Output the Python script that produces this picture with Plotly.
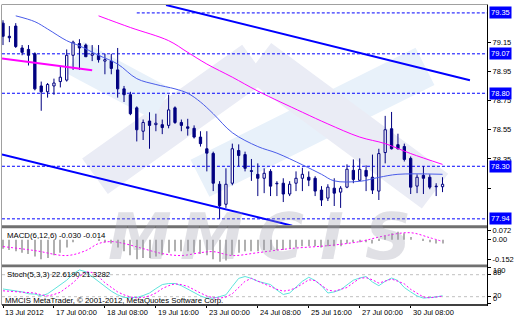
import plotly.graph_objects as go

# ---------------- data ----------------
bar_index = list(range(70))
open_ = [79.28, 79.19, 79.26, 79.11, 79.10, 79.07, 78.85, 78.81, 78.85, 78.88,
         78.89, 79.06, 79.14, 79.13, 79.06, 79.06, 79.02, 79.02, 78.96, 78.83,
         78.79, 78.70, 78.54, 78.61, 78.585, 78.585, 78.58, 78.70, 78.60, 78.57,
         78.56, 78.50, 78.42, 78.388, 78.177, 78.04, 78.184, 78.408, 78.38, 78.27,
         78.245, 78.218, 78.265, 78.184, 78.184, 78.11, 78.184, 78.218, 78.225, 78.218,
         78.137, 78.082, 78.15, 78.123, 78.157, 78.272, 78.204, 78.272, 78.225, 78.13,
         78.394, 78.557, 78.448, 78.435, 78.354, 78.164, 78.238, 78.225, 78.164, 78.16]
high_ = [79.30, 79.26, 79.28, 79.13, 79.13, 79.08, 78.88, 78.87, 78.90, 78.98,
         79.10, 79.16, 79.17, 79.14, 79.13, 79.13, 79.07, 79.07, 79.11, 78.85,
         78.81, 78.71, 78.62, 78.67, 78.66, 78.62, 78.79, 78.71, 78.62, 78.625,
         78.58, 78.54, 78.54, 78.40, 78.198, 78.286, 78.455, 78.45, 78.40, 78.35,
         78.32, 78.286, 78.28, 78.198, 78.218, 78.198, 78.265, 78.29, 78.265, 78.232,
         78.164, 78.177, 78.218, 78.164, 78.313, 78.347, 78.354, 78.306, 78.38, 78.42,
         78.645, 78.672, 78.523, 78.455, 78.367, 78.245, 78.30, 78.245, 78.184, 78.225]
low_ = [79.13, 79.15, 79.11, 79.06, 78.99, 78.82, 78.68, 78.77, 78.79, 78.84,
        78.88, 78.96, 78.96, 79.05, 79.02, 79.01, 78.93, 78.93, 78.77, 78.74,
        78.65, 78.47, 78.48, 78.42, 78.54, 78.52, 78.56, 78.59, 78.54, 78.51,
        78.49, 78.435, 78.265, 78.13, 77.94, 78.015, 78.17, 78.30, 78.265, 78.20,
        78.096, 78.116, 78.096, 78.096, 78.055, 78.096, 78.13, 78.13, 78.164, 78.096,
        78.028, 78.062, 78.028, 78.015, 78.15, 78.184, 78.198, 78.13, 78.11, 78.069,
        78.32, 78.415, 78.415, 78.333, 78.11, 78.116, 78.11, 78.143, 78.096, 78.123]
close_ = [79.19, 79.18, 79.12, 79.08, 79.06, 78.83, 78.81, 78.86, 78.87, 78.91,
          79.06, 79.15, 79.11, 79.05, 79.07, 79.03, 79.03, 78.97, 78.83, 78.79,
          78.66, 78.55, 78.60, 78.58, 78.595, 78.565, 78.686, 78.60, 78.58, 78.56,
          78.50, 78.455, 78.39, 78.184, 78.03, 78.177, 78.42, 78.374, 78.286, 78.265,
          78.218, 78.252, 78.164, 78.18, 78.11, 78.177, 78.218, 78.245, 78.205, 78.13,
          78.069, 78.157, 78.116, 78.15, 78.28, 78.21, 78.279, 78.232, 78.137, 78.387,
          78.55, 78.42, 78.42, 78.347, 78.157, 78.225, 78.218, 78.157, 78.16, 78.177]

blue_ma_bar = [2, 5, 7, 10, 12, 15, 18, 21, 24, 27, 29, 31, 33, 36, 40, 43, 47, 50, 52, 56, 59, 62, 69]
blue_ma_val = [79.33, 79.29, 79.24, 79.16, 79.125, 79.06, 79.00, 78.90, 78.86, 78.83, 78.80, 78.74,
               78.66, 78.53, 78.435, 78.39, 78.31, 78.245, 78.20, 78.197, 78.224, 78.245, 78.245]
magenta_ma_bar = [15, 20, 26, 29, 32, 36, 40, 47, 51, 56, 60, 64, 69]
magenta_ma_val = [79.33, 79.25, 79.16, 79.08, 79.00, 78.91, 78.815, 78.67, 78.59, 78.50, 78.455, 78.387, 78.313]

upper_channel_bar = [25.6, 73.3]
upper_channel_price = [79.404, 78.889]
lower_channel_bar = [-0.16, 45.4]
lower_channel_price = [78.381, 77.893]
magenta_trend_bar = [-0.16, 14.0]
magenta_trend_price = [79.038, 78.957]

level_prices = [79.35, 79.07, 78.80, 78.30, 77.94]
level_start_bar = [21, -0.16, -0.16, -0.16, -0.16]
level_labels = ["79.35", "79.07", "78.80", "78.30", "77.94"]

price_tick_vals = [79.15, 78.95, 78.75, 78.55, 78.35, 78.15]
price_tick_text = ["79.15", "78.95", "78.75", "78.55", "78.35", ""]

macd_hist = [-0.07, -0.08, -0.09, -0.10, -0.11, -0.13, -0.15, -0.14, -0.12, -0.10,
             -0.06, -0.02, 0.00, 0.00, 0.00, -0.01, -0.02, -0.03, -0.06, -0.09,
             -0.12, -0.15, -0.14, -0.14, -0.13, -0.12, -0.10, -0.09, -0.09, -0.09,
             -0.10, -0.11, -0.12, -0.15, -0.17, -0.16, -0.12, -0.10, -0.09, -0.09,
             -0.09, -0.08, -0.08, -0.08, -0.08, -0.07, -0.06, -0.05, -0.05, -0.05,
             -0.06, -0.05, -0.05, -0.05, -0.03, -0.02, -0.02, -0.02, -0.03, -0.01,
             0.03, 0.05, 0.06, 0.05, 0.02, 0.00, -0.01, -0.02, -0.03, -0.03]
macd_signal_bar = [0, 5, 10, 13, 15, 17, 19, 22, 25, 28, 31, 33, 36, 40, 45, 51, 56, 60, 64, 67, 69]
macd_signal_val = [-0.053, -0.084, -0.122, -0.084, -0.03, -0.015, -0.03, -0.069, -0.107, -0.122,
                   -0.10, -0.092, -0.122, -0.10, -0.069, -0.046, -0.015, 0.03, 0.053, 0.015, -0.014]
macd_tick_vals = [0.072, 0.0, -0.152]
macd_tick_text = ["0.072", "0.00", "-0.152"]

stoch_main = [41, 39, 37, 33, 28, 27, 22, 28, 40, 52,
              65, 82, 93, 88, 75, 60, 47, 35, 25, 18,
              17, 18, 23, 30, 42, 53, 56, 56, 50, 40,
              30, 22, 16, 16, 20, 25, 48, 70, 75, 70,
              62, 58, 53, 38, 26, 30, 45, 62, 73, 64,
              50, 30, 33, 39, 52, 65, 71, 75, 60, 50,
              62, 71, 64, 45, 33, 22, 16, 17, 19, 22.62]
stoch_signal = [36, 35, 33, 32, 31, 30, 25, 22, 26, 32,
                45, 58, 75, 88, 86, 75, 58, 45, 33, 25,
                19, 17, 18, 22, 30, 42, 50, 55, 53, 48,
                38, 30, 22, 17, 16, 19, 28, 45, 62, 70,
                62, 55, 48, 40, 35, 38, 44, 55, 66, 64,
                50, 38, 35, 40, 45, 58, 70, 72, 66, 57,
                62, 68, 62, 55, 40, 30, 19, 17, 19, 21.33]
stoch_levels = [80, 20]
stoch_label_vals = [100, 80, 20, 0]
stoch_label_text = ["100", "80", "20", "0"]

time_tick_bar = [0, 8, 16, 24, 32, 40, 48, 56, 64]
time_tick_text = ["13 Jul 2012", "17 Jul 00:00", "18 Jul 08:00", "19 Jul 16:00", "23 Jul 00:00",
                  "24 Jul 08:00", "25 Jul 16:00", "27 Jul 00:00", "30 Jul 08:00"]

# ---------------- geometry / style ----------------
W, H = 520, 320
ML, MR, MT, MB = 2, 33, 2, 16
PW, PH = W - ML - MR, H - MT - MB
BAR_PX, FIRST_PX = 6.37, 3.0


def pxp(x):
    return (x - ML) / PW


def pyp(y):
    return (H - MB - y) / PH


x_min = (ML - FIRST_PX) / BAR_PX
x_max = (W - MR - FIRST_PX) / BAR_PX
p_top = 79.35 + 8 * (1.41 / 208)
p_bot = 77.94 - 6.5 * (1.41 / 208)

NAVY = "#000080"
FONT = "Liberation Sans, Arial, sans-serif"

fig = go.Figure()

# candles
wx, wy = [], []
for i, o, h, l, c in zip(bar_index, open_, high_, low_, close_):
    top, bot = max(o, c), min(o, c)
    wx += [i, i, None, i, i, None]
    wy += [h, top, None, bot, l, None]
fig.add_trace(go.Scatter(x=wx, y=wy, mode="lines", line=dict(color=NAVY, width=1),
                         hoverinfo="skip", xaxis="x", yaxis="y"))
body_base = [min(o, c) for o, c in zip(open_, close_)]
body_h = [max(abs(c - o), 0.004) for o, c in zip(open_, close_)]
body_col = ["white" if c >= o else NAVY for o, c in zip(open_, close_)]
fig.add_trace(go.Bar(x=bar_index, y=body_h, base=body_base, width=0.36,
                     marker=dict(color=body_col, line=dict(color=NAVY, width=1)),
                     xaxis="x", yaxis="y"))

# moving averages and drawn lines
fig.add_trace(go.Scatter(x=blue_ma_bar, y=blue_ma_val, mode="lines", line=dict(color="#4a5ce8", width=1, shape="spline"),
                         xaxis="x", yaxis="y"))
fig.add_trace(go.Scatter(x=magenta_ma_bar, y=magenta_ma_val, mode="lines", line=dict(color="#ff00ff", width=1, shape="spline"),
                         xaxis="x", yaxis="y"))
fig.add_trace(go.Scatter(x=upper_channel_bar, y=upper_channel_price, mode="lines", line=dict(color="#0000ff", width=2),
                         xaxis="x", yaxis="y"))
fig.add_trace(go.Scatter(x=lower_channel_bar, y=lower_channel_price, mode="lines", line=dict(color="#0000ff", width=2),
                         xaxis="x", yaxis="y"))
fig.add_trace(go.Scatter(x=magenta_trend_bar, y=magenta_trend_price, mode="lines", line=dict(color="#ff00ff", width=2),
                         xaxis="x", yaxis="y"))

# MACD
fig.add_trace(go.Bar(x=bar_index, y=macd_hist, width=0.16, marker=dict(color="#b0b0b0", line=dict(width=0)),
                     xaxis="x2", yaxis="y2"))
fig.add_trace(go.Scatter(x=macd_signal_bar, y=macd_signal_val, mode="lines",
                         line=dict(color="#ff00ff", width=1, dash="2px,2px", shape="spline"), xaxis="x2", yaxis="y2"))

# Stochastic
fig.add_trace(go.Scatter(x=bar_index, y=stoch_main, mode="lines", line=dict(color="#5fe3dc", width=1),
                         xaxis="x3", yaxis="y3"))
fig.add_trace(go.Scatter(x=bar_index, y=stoch_signal, mode="lines", line=dict(color="#ff00ff", width=1, dash="2px,2px"),
                         xaxis="x3", yaxis="y3"))

shapes = []
# watermark ribbons (decoration, pixel geometry)
def band(x0, y0, x1, y1, w, color):
    import math
    dx, dy = x1 - x0, y1 - y0
    L = math.hypot(dx, dy)
    nx, ny = -dy / L * w / 2, dx / L * w / 2
    pts = [(x0 + nx, y0 + ny), (x1 + nx, y1 + ny), (x1 - nx, y1 - ny), (x0 - nx, y0 - ny)]
    path = "M " + " L ".join(f"{pxp(a):.4f},{pyp(b):.4f}" for a, b in pts) + " Z"
    return dict(type="path", path=path, xref="paper", yref="paper", fillcolor=color,
                line=dict(width=0), layer="below")

shapes.append(band(200, 177, 425, 64, 42, "#e8f1fa"))
shapes.append(band(95, 175, 255, 60, 44, "#eaecf5"))
shapes.append(band(75, 55, 162, 102, 36, "#e8f1fa"))
shapes.append(band(258, 58, 435, 190, 44, "#eaecf5"))

# level lines
for lp, ls in zip(level_prices, level_start_bar):
    shapes.append(dict(type="line", xref="x", yref="y", x0=ls, x1=x_max, y0=lp, y1=lp,
                       line=dict(color="#0000ff", width=1, dash="3px,2px"), layer="below"))
for lv in stoch_levels:
    shapes.append(dict(type="line", xref="x3", yref="y3", x0=x_min, x1=x_max, y0=lv, y1=lv,
                       line=dict(color="#c0c0c0", width=1, dash="3px,3px"), layer="below"))

# frame & separators
shapes += [
    dict(type="rect", xref="paper", yref="paper", x0=0, x1=1, y0=pyp(227.5), y1=pyp(224.5),
         fillcolor="#707070", line=dict(width=0)),
    dict(type="rect", xref="paper", yref="paper", x0=0, x1=1, y0=pyp(267), y1=pyp(264),
         fillcolor="#707070", line=dict(width=0)),
    dict(type="line", xref="paper", yref="paper", x0=0, x1=1, y0=pyp(1.5), y1=pyp(1.5),
         line=dict(color="#a0a0a0", width=1)),
    dict(type="line", xref="paper", yref="paper", x0=pxp(1.5), x1=pxp(1.5), y0=pyp(1.5), y1=pyp(305),
         line=dict(color="#a0a0a0", width=1)),
    dict(type="line", xref="paper", yref="paper", x0=0, x1=1, y0=pyp(305), y1=pyp(305),
         line=dict(color="#404040", width=2)),
    dict(type="line", xref="paper", yref="paper", x0=pxp(487.5), x1=pxp(487.5), y0=pyp(1.5), y1=pyp(306),
         line=dict(color="#000000", width=1)),
]

ann = []
# watermark letters
for letter, cx in zip(["M", "M", "C", "I", "S"], [140, 212, 280, 332, 388]):
    ann.append(dict(text=letter, xref="paper", yref="paper", x=pxp(cx), y=pyp(236), xanchor="center",
                    yanchor="middle", showarrow=False,
                    font=dict(family="DejaVu Sans", size=64, color="rgba(160,160,175,0.32)",
                              weight="bold", style="italic")))
# level boxes
for lp, lt in zip(level_prices, level_labels):
    ann.append(dict(text=lt, xref="paper", yref="y", x=1, y=lp, xanchor="left", yanchor="middle",
                    xshift=2, showarrow=False, bgcolor="#0000ff", borderpad=1,
                    font=dict(family=FONT, size=7.5, color="white")))
# stochastic scale labels
for sv, st, sh in zip(stoch_label_vals, stoch_label_text, [-3, 2, 1, 5]):
    ann.append(dict(text=st, xref="paper", yref="y3", x=1, y=sv, xanchor="left", yanchor="middle",
                    xshift=4, yshift=sh, showarrow=False, font=dict(family=FONT, size=7.5, color="#000")))
# time labels
for tb, tt in zip(time_tick_bar, time_tick_text):
    ann.append(dict(text=tt, xref="x3", yref="paper", x=tb, y=0, xanchor="left", yanchor="top",
                    xshift=0, yshift=-2, showarrow=False, font=dict(family=FONT, size=7.5, color="#000")))
# panel texts
ann.append(dict(text="MACD(6,12,6) -0.030 -0.014", xref="paper", yref="paper", x=pxp(5), y=pyp(235),
                xanchor="left", yanchor="middle", showarrow=False, font=dict(family=FONT, size=7.8, color="#000")))
ann.append(dict(text="Stoch(5,3,3) 22.6190 21.3282", xref="paper", yref="paper", x=pxp(5), y=pyp(274),
                xanchor="left", yanchor="middle", showarrow=False, font=dict(family=FONT, size=7.8, color="#000")))
ann.append(dict(text="MMCIS MetaTrader, © 2001-2012, MetaQuotes Software Corp.", xref="paper", yref="paper",
                x=pxp(3), y=pyp(300), xanchor="left", yanchor="middle", showarrow=False,
                font=dict(family=FONT, size=7.8, color="#000")))

xcommon = dict(range=[x_min, x_max], showgrid=False, zeroline=False, showticklabels=False,
               showline=False, fixedrange=True, domain=[0, 1])
fig.update_layout(
    width=W, height=H, margin=dict(l=ML, r=MR, t=MT, b=MB, pad=0),
    paper_bgcolor="white", plot_bgcolor="rgba(0,0,0,0)", showlegend=False, barmode="overlay",
    xaxis=dict(**xcommon, anchor="y", ticks=""),
    xaxis2=dict(**xcommon, anchor="y2", ticks=""),
    xaxis3=dict(**xcommon, anchor="y3", ticks="outside", ticklen=3, tickcolor="#000",
                tickvals=time_tick_bar),
    yaxis=dict(domain=[pyp(224.5), 1], range=[p_bot, p_top], side="right", anchor="x",
               showgrid=False, zeroline=False, ticks="outside", ticklen=3, tickcolor="#000",
               tickvals=price_tick_vals, ticktext=price_tick_text,
               tickfont=dict(family=FONT, size=7.5, color="#000"), fixedrange=True),
    yaxis2=dict(domain=[pyp(264), pyp(228)], range=[-0.19, 0.0836], side="right", anchor="x2",
                showgrid=False, zeroline=False, ticks="outside", ticklen=3, tickcolor="#000",
                tickvals=macd_tick_vals, ticktext=macd_tick_text,
                tickfont=dict(family=FONT, size=7.5, color="#000"), fixedrange=True),
    yaxis3=dict(domain=[0, pyp(267)], range=[0, 100], side="right", anchor="x3",
                showgrid=False, zeroline=False, ticks="outside", ticklen=3, tickcolor="#000",
                tickvals=stoch_label_vals, showticklabels=False, fixedrange=True),
    shapes=shapes, annotations=ann,
)

fig.write_html("out.html")
